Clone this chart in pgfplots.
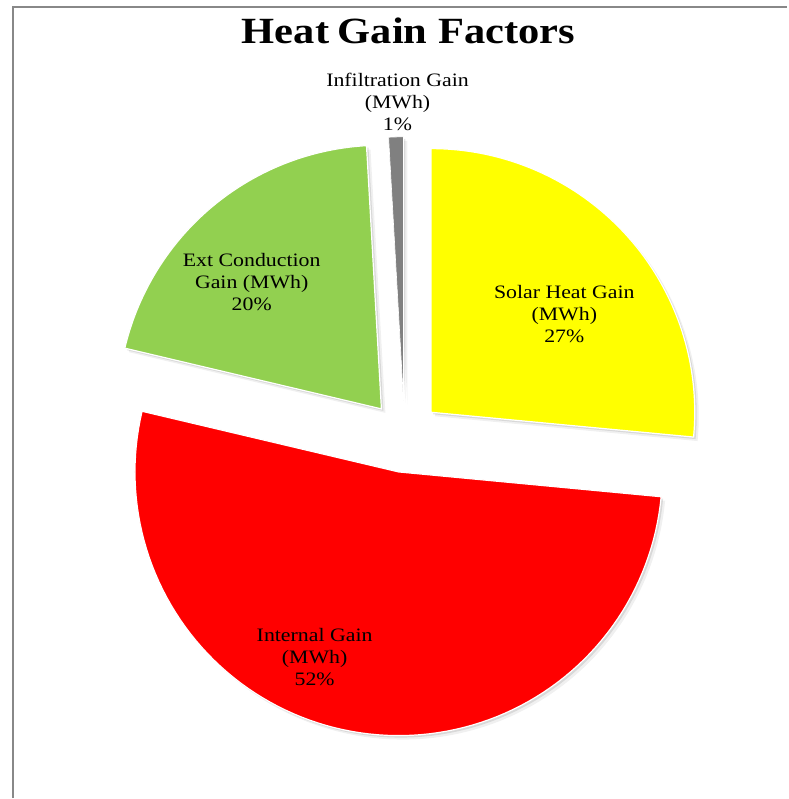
\documentclass[border=0pt]{standalone}
\usepackage{pgfplots}
\pgfplotsset{compat=1.18}
\usepackage{pgfplotstable}
\usepackage{fontspec}
\setmainfont{Liberation Serif}
\newfontfamily\labfont[FakeStretch=1.15]{Liberation Serif}
\newfontfamily\titfont[FakeStretch=1.15]{Liberation Serif}
\definecolor{csolar}{HTML}{FFFF00}
\definecolor{cinternal}{HTML}{FF0000}
\definecolor{cext}{HTML}{92D050}
\definecolor{cinfil}{HTML}{808080}
\definecolor{frame}{HTML}{888888}

% percentage shares, in the order Excel draws them (clockwise from 12 o'clock)
\pgfplotstableread{
slice value
Solar 26.5
Internal 52.2
Ext 20.4
Infiltration 0.9
}\piedata

\pgfplotstablegetelem{0}{value}\of\piedata \let\vA\pgfplotsretval
\pgfplotstablegetelem{1}{value}\of\piedata \let\vB\pgfplotsretval
\pgfplotstablegetelem{2}{value}\of\piedata \let\vC\pgfplotsretval
\pgfplotstablegetelem{3}{value}\of\piedata \let\vD\pgfplotsretval

\def\pcx{405}\def\pcy{437}\def\prad{264}\def\pexp{36}

% #1 start share, #2 end share, #3 colour, #4 shadow offset, #5 opacity
\newcommand{\pieslice}[5]{%
  \pgfmathsetmacro\sa{#1*3.6}%
  \pgfmathsetmacro\ea{#2*3.6}%
  \pgfmathsetmacro\ma{(\sa+\ea)/2}%
  \pgfmathsetmacro\cx{\pcx+\pexp*sin(\ma)+#4}%
  \pgfmathsetmacro\cy{\pcy-\pexp*cos(\ma)+#4}%
  \edef\tmp{\noexpand\addplot[#3, domain=\sa:\ea, samples=100]
    ({\cx+\prad*sin(x)},{\cy-\prad*cos(x)}) -- (axis cs:\cx,\cy) -- cycle;}%
  \tmp
}

\begin{document}
\begin{tikzpicture}
\begin{axis}[
  width=788pt, height=799pt, scale only axis,
  xmin=0, xmax=788, ymin=0, ymax=799, y dir=reverse,
  hide axis, clip=false,
]
\path (rel axis cs:0,0) rectangle (rel axis cs:1,1);
\pgfmathsetmacro\sA{0}
\pgfmathsetmacro\sB{\vA}
\pgfmathsetmacro\sC{\vA+\vB}
\pgfmathsetmacro\sD{\vA+\vB+\vC}
\pgfmathsetmacro\sE{\vA+\vB+\vC+\vD}
% soft shadows
\pieslice{\sA}{\sB}{draw=none, fill=black, fill opacity=0.06}{4}{}
\pieslice{\sB}{\sC}{draw=none, fill=black, fill opacity=0.06}{4}{}
\pieslice{\sC}{\sD}{draw=none, fill=black, fill opacity=0.06}{4}{}
\pieslice{\sD}{\sE}{draw=none, fill=black, fill opacity=0.06}{4}{}
\pieslice{\sA}{\sB}{draw=none, fill=black, fill opacity=0.10}{2}{}
\pieslice{\sB}{\sC}{draw=none, fill=black, fill opacity=0.10}{2}{}
\pieslice{\sC}{\sD}{draw=none, fill=black, fill opacity=0.10}{2}{}
\pieslice{\sD}{\sE}{draw=none, fill=black, fill opacity=0.10}{2}{}
% slices
\pieslice{\sA}{\sB}{draw=white, line width=1.2pt, fill=csolar}{0}{}
\pieslice{\sB}{\sC}{draw=white, line width=1.2pt, fill=cinternal}{0}{}
\pieslice{\sC}{\sD}{draw=white, line width=1.2pt, fill=cext}{0}{}
\pieslice{\sD}{\sE}{draw=white, line width=0.6pt, fill=cinfil}{0}{}
% frame
\draw[frame, line width=2pt] (axis cs:13,799) -- (axis cs:13,7) -- (axis cs:788,7);
% title
\node[font=\titfont\bfseries\fontsize{37}{40}\selectfont] at (axis cs:409,31) {Heat\hspace{-2pt} Gain Factors};
% labels
\node[font=\labfont\fontsize{19}{22}\selectfont, align=center] at (axis cs:398,102) {Infiltration Gain\\(MWh)\\1\%};
\node[font=\labfont\fontsize{19}{22}\selectfont, align=center] at (axis cs:252,282) {Ext Conduction\\Gain (MWh)\\20\%};
\node[font=\labfont\fontsize{19}{22}\selectfont, align=center] at (axis cs:565,314) {Solar Heat Gain\\(MWh)\\27\%};
\node[font=\labfont\fontsize{19}{22}\selectfont, align=center] at (axis cs:315,658) {Internal Gain\\(MWh)\\52\%};
\end{axis}
\end{tikzpicture}
\end{document}
